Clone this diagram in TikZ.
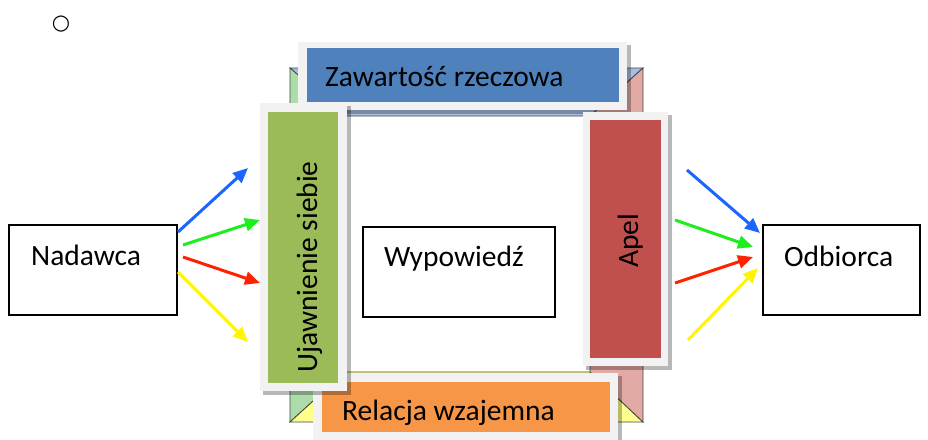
\documentclass[tikz,border=0pt]{standalone}
\usepackage{fontspec}
\setmainfont{Carlito}
\newfontfamily\symfont{DejaVu Sans}
\usetikzlibrary{arrows.meta}
\definecolor{panelgray}{RGB}{242,242,242}
\definecolor{pblue}{RGB}{79,129,189}
\definecolor{pgreen}{RGB}{155,187,89}
\definecolor{pred}{RGB}{192,80,77}
\definecolor{porange}{RGB}{247,150,70}
\definecolor{lblue}{RGB}{168,190,225}
\definecolor{lgreen}{RGB}{172,220,170}
\definecolor{lpink}{RGB}{226,170,164}
\definecolor{lyellow}{RGB}{255,255,140}
\definecolor{framedge}{RGB}{70,70,70}
\definecolor{arblue}{RGB}{26,102,255}
\definecolor{argreen}{RGB}{30,238,30}
\definecolor{arred}{RGB}{255,34,0}
\definecolor{aryellow}{RGB}{255,245,0}
\begin{document}
\begin{tikzpicture}[x=1pt,y=-1pt,
  txt/.style={inner sep=0pt,font=\fontsize{29.5}{35}\selectfont},
  trap/.style={draw=framedge,line width=0.8pt,line join=miter},
  shadowbox/.style={fill=black,opacity=0.28},
  plainbox/.style={draw=black,line width=1.8pt,fill=white},
  arr/.style={line width=3pt,-{Triangle[length=15pt,width=13pt]}}]
\useasboundingbox (0,0) rectangle (928,439);
\fill[white] (0,0) rectangle (928,439);

% bevelled frame
\filldraw[trap,fill=lblue]   (290,68) -- (643,68) -- (590,116) -- (345,116) -- cycle;
\filldraw[trap,fill=lgreen]  (290,68) -- (345,116) -- (345,372) -- (290,422) -- cycle;
\filldraw[trap,fill=lyellow] (290,422) -- (345,372) -- (590,372) -- (643,422) -- cycle;
\filldraw[trap,fill=lpink]   (643,68) -- (643,422) -- (590,372) -- (590,116) -- cycle;

% top panel
\fill[shadowbox] (301,45) rectangle (631,114);
\fill[panelgray] (298,42) rectangle (627,110);
\fill[pblue] (307,48) rectangle (619,102);
\node[txt,anchor=base west] (zaw) at (325,86) {Zawartość rzeczowa};

% bottom panel
\fill[shadowbox] (316,376) rectangle (622,445);
\fill[panelgray] (313,373) rectangle (618,445);
\fill[porange] (322,382) rectangle (610,432);
\node[txt,anchor=base west] (rel) at (342,420) {Relacja wzajemna};

% left panel
\fill[shadowbox] (263,106) rectangle (351,395);
\fill[panelgray] (260,103) rectangle (347,391);
\fill[pgreen] (268,112) rectangle (338,383);
\node[txt,anchor=base west,rotate=90] (uja) at (317,373) {Ujawnienie siebie};

% right panel
\fill[shadowbox] (586,115) rectangle (672,370);
\fill[panelgray] (583,112) rectangle (668,366);
\fill[pred] (590,120) rectangle (661,358);
\node[txt,anchor=base west,rotate=90] (apel) at (638,268) {Apel};

% boxes
\draw[plainbox] (363,227) rectangle (555,317);
\node[txt,anchor=base west] (wyp) at (384,266) {Wypowiedź};
\draw[plainbox] (9,225) rectangle (177,315);
\node[txt,anchor=base west] (nad) at (31,265) {Nadawca};
\draw[plainbox] (763,225) rectangle (920,315);
\node[txt,anchor=base west] (odb) at (784,266) {Odbiorca};

% arrow end points
\coordinate (ls1) at (178,232); \coordinate (le1) at (248,168);
\coordinate (ls2) at (183,245); \coordinate (le2) at (260,220);
\coordinate (ls3) at (183,257); \coordinate (le3) at (260,283);
\coordinate (ls4) at (178,272); \coordinate (le4) at (248,342);
\coordinate (rs1) at (687,170); \coordinate (re1) at (760,233);
\coordinate (rs2) at (675,220); \coordinate (re2) at (753,247);
\coordinate (rs3) at (675,283); \coordinate (re3) at (753,257);
\coordinate (rs4) at (688,340); \coordinate (re4) at (758,268);

\draw[arr,arblue] (ls1) -- (le1);
\draw[arr,argreen] (ls2) -- (le2);
\draw[arr,arred] (ls3) -- (le3);
\draw[arr,aryellow] (ls4) -- (le4);
\draw[arr,arblue] (rs1) -- (re1);
\draw[arr,argreen] (rs2) -- (re2);
\draw[arr,arred] (rs3) -- (re3);
\draw[arr,aryellow] (rs4) -- (re4);

% bullet
\node[inner sep=0pt,font=\symfont\fontsize{21}{24}\selectfont] (bul) at (61,24) {○};
\end{tikzpicture}
\end{document}
